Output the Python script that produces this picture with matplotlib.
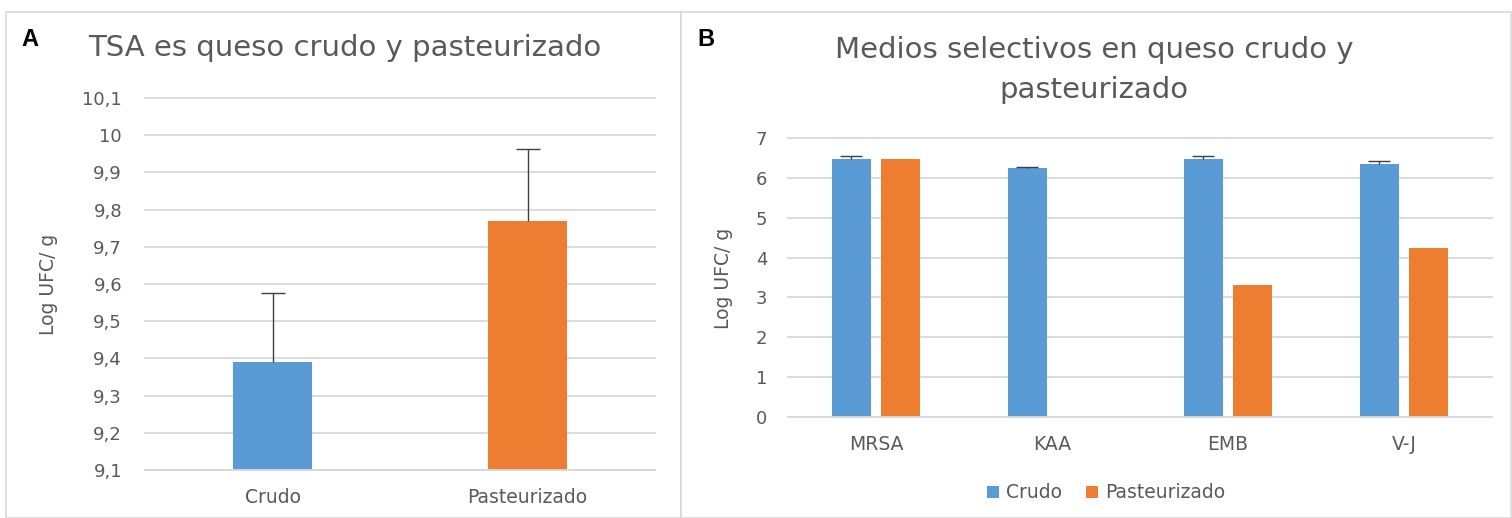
import numpy as np
import matplotlib.pyplot as plt
from matplotlib.patches import Rectangle

plt.rcParams['font.family'] = ['DejaVu Sans']

# Panel A: TSA
cat_a = ['Crudo', 'Pasteurizado']
val_a = [9.39, 9.77]
err_a = [0.186, 0.193]
yticks_a = [9.1, 9.2, 9.3, 9.4, 9.5, 9.6, 9.7, 9.8, 9.9, 10.0, 10.1]
ylabels_a = ['9,1', '9,2', '9,3', '9,4', '9,5', '9,6', '9,7', '9,8', '9,9', '10', '10,1']

# Panel B: medios selectivos
cat_b = ['MRSA', 'KAA', 'EMB', 'V-J']
crudo_b = [6.47, 6.25, 6.47, 6.35]
crudo_err_b = [0.07, 0.03, 0.07, 0.07]
past_b = [6.47, 0.0, 3.31, 4.24]

azul = '#5b9bd5'
naranja = '#ed7d31'
gris = '#595959'
rejilla = '#d9d9d9'

W, H = 1512, 518
fig = plt.figure(figsize=(W / 100, H / 100), dpi=100)

# marcos de los paneles
fig.patches.append(Rectangle((6 / W, 0), 675 / W, (H - 12) / H, transform=fig.transFigure,
                             fill=False, edgecolor='#d9d9d9', lw=1.2))
fig.patches.append(Rectangle((681 / W, 0), 830 / W, (H - 12) / H, transform=fig.transFigure,
                             fill=False, edgecolor='#d9d9d9', lw=1.2))


def estilo(ax):
    for s in ['top', 'right', 'left']:
        ax.spines[s].set_visible(False)
    ax.spines['bottom'].set_color(rejilla)
    ax.spines['bottom'].set_linewidth(1.3)
    ax.yaxis.grid(True, color=rejilla, lw=1.3)
    for g in ax.get_ygridlines():
        g.set_clip_on(False)
    ax.set_axisbelow(True)
    ax.tick_params(length=0, colors=gris, labelsize=13)
    ax.tick_params(axis='x', pad=13, labelsize=13.5)


def barras_error(ax, x, y, err, cap):
    # solo la parte superior del error, como en Excel
    _, caps, _ = ax.errorbar(x, y, yerr=[[0] * len(y), err], fmt='none', ecolor='#404040',
                             elinewidth=1, capsize=cap, capthick=1)
    for c in caps:
        if np.allclose(c.get_ydata(), y):
            c.set_visible(False)


# ---- Panel A ----
axA = fig.add_axes([145 / W, (H - 470) / H, 510 / W, 372 / H])
xa = np.arange(len(cat_a))
axA.bar(xa, [v - 9.1 for v in val_a], bottom=9.1, width=0.31, color=[azul, naranja])
barras_error(axA, xa, val_a, err_a, 8.5)
axA.set_xlim(-0.5, 1.5)
axA.set_ylim(9.1, 10.1)
axA.set_yticks(yticks_a)
axA.set_yticklabels(ylabels_a)
axA.set_xticks(xa)
axA.set_xticklabels(cat_a)
estilo(axA)
axA.tick_params(axis='y', pad=16.5)
axA.set_ylabel('Log UFC/ g', color=gris, fontsize=13.5)
axA.yaxis.set_label_coords((58 - 145) / 510, 0.5)
fig.text(345 / W, 1 - 48 / H, 'TSA es queso crudo y pasteurizado', ha='center', va='center',
         fontsize=21, color=gris)
fig.text(21 / W, 1 - 40 / H, 'A', ha='left', va='center', fontsize=17, fontweight='bold',
         family='Liberation Sans')

# ---- Panel B ----
axB = fig.add_axes([788 / W, (H - 417) / H, 704 / W, 279 / H])
xb = np.arange(len(cat_b))
wb = 0.225
off = 0.14
axB.bar(xb - off, crudo_b, width=wb, color=azul, label='Crudo')
barras_error(axB, xb - off, crudo_b, crudo_err_b, 8)
axB.bar(xb + off, past_b, width=wb, color=naranja, label='Pasteurizado')
axB.set_xlim(-0.5, 3.5)
axB.set_ylim(0, 7)
axB.set_yticks(range(0, 8))
axB.set_xticks(xb)
axB.set_xticklabels(cat_b)
estilo(axB)
axB.tick_params(axis='y', pad=15)
axB.set_ylabel('Log UFC/ g', color=gris, fontsize=13.5)
axB.yaxis.set_label_coords((733 - 788) / 704, 0.498)
fig.text(1094 / W, 1 - 70 / H, 'Medios selectivos en queso crudo y\npasteurizado', ha='center',
         va='center', fontsize=21, color=gris, linespacing=1.52)
fig.text(697 / W, 1 - 40 / H, 'B', ha='left', va='center', fontsize=17, fontweight='bold',
         family='Liberation Sans')
leg = axB.legend(loc='center', bbox_to_anchor=(1106 / W, 1 - 493 / H),
                 bbox_transform=fig.transFigure, ncol=2, frameon=False, fontsize=13.5,
                 handlelength=0.65, handleheight=0.65, handletextpad=0.35, columnspacing=1.3)
for t in leg.get_texts():
    t.set_color(gris)

fig.savefig('out.png', dpi=100)
